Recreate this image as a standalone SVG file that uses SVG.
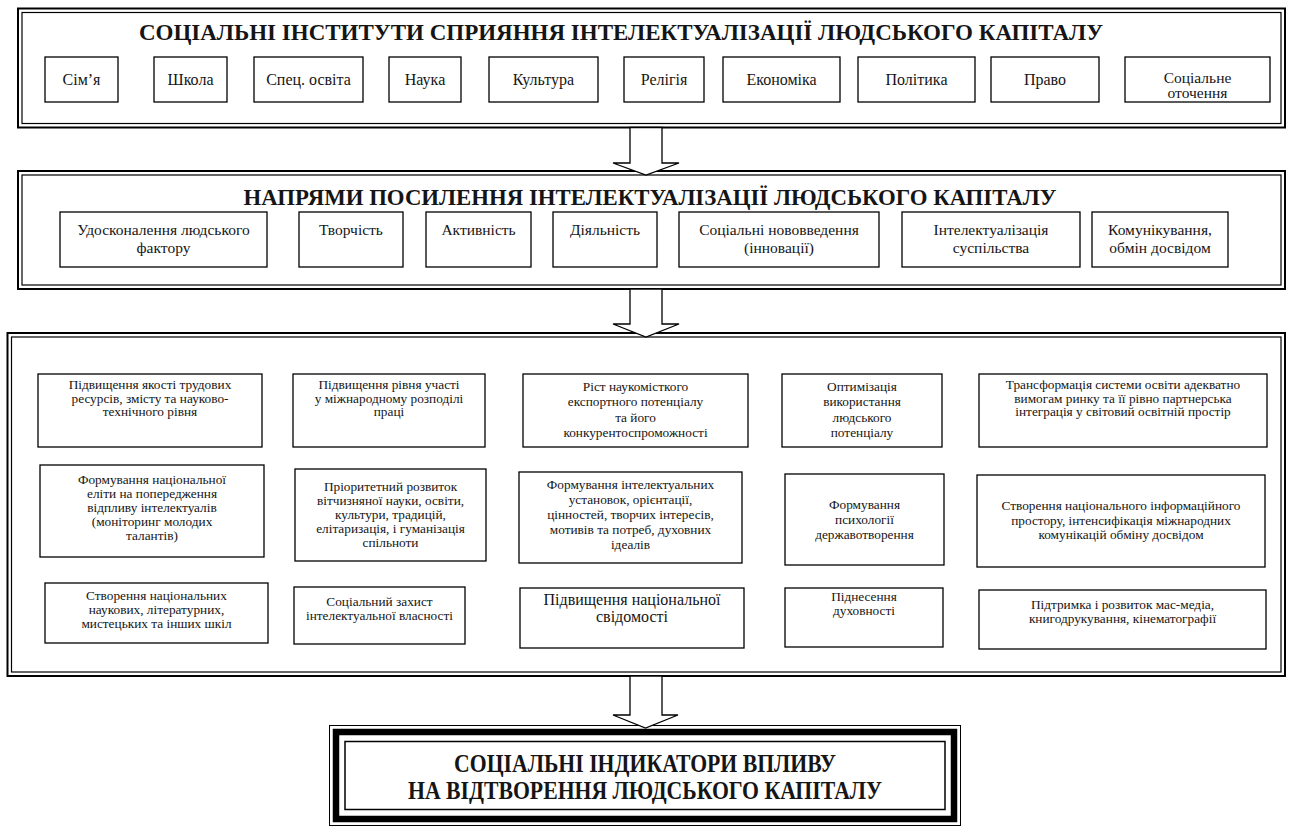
<svg xmlns="http://www.w3.org/2000/svg" width="1290" height="830" viewBox="0 0 1290 830" font-family="'Liberation Serif','Times New Roman','DejaVu Serif',serif">
<style>
.fo{fill:none;stroke:#000;stroke-width:2}
.fi{fill:none;stroke:#000;stroke-width:1.2}
.node rect{fill:#fff;stroke:#000;stroke-width:1.3}
.title{font-family:'Liberation Serif','Times New Roman','DejaVu Serif',serif;font-weight:700;font-size:23px;fill:#151515;text-anchor:middle}
.lbl{font-family:'Liberation Serif','Times New Roman','DejaVu Serif',serif;font-size:16px;fill:#151515;text-anchor:middle}
.l2{font-size:15.5px}
.l3{font-size:13.3px}
.big{font-size:16px}
.arrow{fill:#fff;stroke:#000;stroke-width:1.3;stroke-linejoin:miter}
</style>

<!-- Section 1 -->
<g id="sec1">
<rect class="fo" x="18" y="8.5" width="1267" height="119"/>
<rect class="fi" x="22" y="12.5" width="1259" height="111"/>
<text class="title" x="621" y="39.5">СОЦІАЛЬНІ ІНСТИТУТИ СПРИЯННЯ ІНТЕЛЕКТУАЛІЗАЦІЇ ЛЮДСЬКОГО КАПІТАЛУ</text>
</g>
<g id="n-simya" class="node"><rect x="45" y="57" width="73" height="45"/><text class="lbl" x="81.5" y="85">Сім’я</text></g>
<g id="n-shkola" class="node"><rect x="154" y="57" width="73" height="45"/><text class="lbl" x="190.5" y="85">Школа</text></g>
<g id="n-spec" class="node"><rect x="254" y="57" width="109" height="45"/><text class="lbl" x="308.5" y="85">Спец. освіта</text></g>
<g id="n-nauka" class="node"><rect x="389" y="57" width="72" height="45"/><text class="lbl" x="425" y="85">Наука</text></g>
<g id="n-kultura" class="node"><rect x="489" y="57" width="109" height="45"/><text class="lbl" x="543.5" y="85">Культура</text></g>
<g id="n-religiya" class="node"><rect x="624" y="57" width="80" height="45"/><text class="lbl" x="664" y="85">Релігія</text></g>
<g id="n-ekonomika" class="node"><rect x="723" y="57" width="117" height="45"/><text class="lbl" x="781.5" y="85">Економіка</text></g>
<g id="n-polityka" class="node"><rect x="858" y="57" width="117" height="45"/><text class="lbl" x="916.5" y="85">Політика</text></g>
<g id="n-pravo" class="node"><rect x="991" y="57" width="108" height="45"/><text class="lbl" x="1045" y="85">Право</text></g>
<g id="n-otochennya" class="node"><rect x="1125" y="57" width="145" height="45"/><text class="lbl l2"><tspan x="1197.5" y="83">Соціальне</tspan><tspan x="1197.5" y="98">оточення</tspan></text></g>

<!-- Section 2 -->
<g id="sec2">
<rect class="fo" x="18" y="171" width="1267" height="118"/>
<rect class="fi" x="22" y="175" width="1259" height="110"/>
<text class="title" style="font-size:22.8px" x="650" y="205">НАПРЯМИ ПОСИЛЕННЯ ІНТЕЛЕКТУАЛІЗАЦІЇ ЛЮДСЬКОГО КАПІТАЛУ</text>
</g>
<g id="n-udosk" class="node"><rect x="60" y="212" width="207" height="55"/><text class="lbl l2"><tspan x="163.5" y="235">Удосконалення людського</tspan><tspan x="163.5" y="253">фактору</tspan></text></g>
<g id="n-tvorch" class="node"><rect x="299" y="212" width="104" height="55"/><text class="lbl l2" x="351" y="235">Творчість</text></g>
<g id="n-aktyv" class="node"><rect x="426" y="212" width="105" height="55"/><text class="lbl l2" x="478.5" y="235">Активність</text></g>
<g id="n-diyal" class="node"><rect x="553" y="212" width="104" height="55"/><text class="lbl l2" x="605" y="235">Діяльність</text></g>
<g id="n-innov" class="node"><rect x="679" y="212" width="200" height="55"/><text class="lbl l2"><tspan x="779" y="235">Соціальні нововведення</tspan><tspan x="779" y="253">(інновації)</tspan></text></g>
<g id="n-intel" class="node"><rect x="902" y="212" width="178" height="55"/><text class="lbl l2"><tspan x="991" y="235">Інтелектуалізація</tspan><tspan x="991" y="253">суспільства</tspan></text></g>
<g id="n-komun" class="node"><rect x="1092" y="212" width="136" height="55"/><text class="lbl l2"><tspan x="1160" y="235">Комунікування,</tspan><tspan x="1160" y="253">обмін досвідом</tspan></text></g>

<!-- Section 3 -->
<g id="sec3">
<rect class="fo" x="7.5" y="333" width="1277.5" height="343"/>
<rect class="fi" x="11.5" y="337" width="1269.5" height="335"/>
</g>
<g id="n-a1" class="node"><rect x="38" y="374" width="224" height="73"/><text class="lbl l3"><tspan x="150" y="389">Підвищення якості трудових</tspan><tspan x="150" y="402.5">ресурсів, змісту та науково-</tspan><tspan x="150" y="416">технічного рівня</tspan></text></g>
<g id="n-b1" class="node"><rect x="293" y="374" width="192" height="73"/><text class="lbl l3"><tspan x="389" y="389">Підвищення рівня участі</tspan><tspan x="389" y="402.5">у міжнародному розподілі</tspan><tspan x="389" y="416">праці</tspan></text></g>
<g id="n-c1" class="node"><rect x="523" y="374" width="225" height="73"/><text class="lbl l3"><tspan x="635.5" y="390.5">Ріст наукомісткого</tspan><tspan x="635.5" y="406">експортного потенціалу</tspan><tspan x="635.5" y="421.5">та його</tspan><tspan x="635.5" y="437">конкурентоспроможності</tspan></text></g>
<g id="n-d1" class="node"><rect x="782" y="374" width="160" height="73"/><text class="lbl l3"><tspan x="862" y="390.5">Оптимізація</tspan><tspan x="862" y="406">використання</tspan><tspan x="862" y="421.5">людського</tspan><tspan x="862" y="437">потенціалу</tspan></text></g>
<g id="n-e1" class="node"><rect x="979" y="374" width="288" height="73"/><text class="lbl l3"><tspan x="1123" y="389">Трансформація системи освіти адекватно</tspan><tspan x="1123" y="402.5">вимогам ринку та її рівно партнерська</tspan><tspan x="1123" y="416">інтеграція у світовий освітній простір</tspan></text></g>

<g id="n-a2" class="node"><rect x="40" y="465" width="224" height="92"/><text class="lbl l3"><tspan x="152" y="484">Формування національної</tspan><tspan x="152" y="498">еліти на попередження</tspan><tspan x="152" y="512">відпливу інтелектуалів</tspan><tspan x="152" y="526">(моніторинг молодих</tspan><tspan x="152" y="540">талантів)</tspan></text></g>
<g id="n-b2" class="node"><rect x="295" y="469" width="191" height="92"/><text class="lbl l3"><tspan x="390.5" y="491">Пріоритетний розвиток</tspan><tspan x="390.5" y="505">вітчизняної науки, освіти,</tspan><tspan x="390.5" y="519">культури, традицій,</tspan><tspan x="390.5" y="533">елітаризація, і гуманізація</tspan><tspan x="390.5" y="547">спільноти</tspan></text></g>
<g id="n-c2" class="node"><rect x="519" y="472" width="223" height="91"/><text class="lbl l3"><tspan x="630.5" y="489">Формування інтелектуальних</tspan><tspan x="630.5" y="504">установок, орієнтації,</tspan><tspan x="630.5" y="519">цінностей, творчих інтересів,</tspan><tspan x="630.5" y="534">мотивів та потреб, духовних</tspan><tspan x="630.5" y="549">ідеалів</tspan></text></g>
<g id="n-d2" class="node"><rect x="785" y="474" width="159" height="91"/><text class="lbl l3"><tspan x="864.5" y="509">Формування</tspan><tspan x="864.5" y="524">психології</tspan><tspan x="864.5" y="539">державотворення</tspan></text></g>
<g id="n-e2" class="node"><rect x="977" y="475" width="288" height="92"/><text class="lbl l3"><tspan x="1121" y="510">Створення національного інформаційного</tspan><tspan x="1121" y="524.5">простору, інтенсифікація міжнародних</tspan><tspan x="1121" y="539">комунікацій обміну досвідом</tspan></text></g>

<g id="n-a3" class="node"><rect x="45" y="583" width="223" height="60"/><text class="lbl l3"><tspan x="156.5" y="600">Створення національних</tspan><tspan x="156.5" y="614">наукових, літературних,</tspan><tspan x="156.5" y="628">мистецьких та інших шкіл</tspan></text></g>
<g id="n-b3" class="node"><rect x="294" y="587" width="171" height="57"/><text class="lbl l3"><tspan x="379.5" y="606">Соціальний захист</tspan><tspan x="379.5" y="620">інтелектуальної власності</tspan></text></g>
<g id="n-c3" class="node"><rect x="520" y="588" width="224" height="60"/><text class="lbl big"><tspan x="632" y="605">Підвищення національної</tspan><tspan x="632" y="622">свідомості</tspan></text></g>
<g id="n-d3" class="node"><rect x="785" y="588" width="158" height="59"/><text class="lbl l3"><tspan x="864" y="601">Піднесення</tspan><tspan x="864" y="615">духовності</tspan></text></g>
<g id="n-e3" class="node"><rect x="979" y="590" width="287" height="59"/><text class="lbl l3"><tspan x="1122.5" y="609">Підтримка і розвиток мас-медіа,</tspan><tspan x="1122.5" y="623">книгодрукування, кінематографії</tspan></text></g>

<!-- Bottom result -->
<g id="n-result">
<rect x="329.5" y="725.5" width="631" height="100" fill="#fff" stroke="#000" stroke-width="1"/>
<rect x="336" y="732" width="618" height="87" fill="none" stroke="#000" stroke-width="6.5"/>
<rect x="345" y="741.5" width="600" height="68" fill="none" stroke="#000" stroke-width="1.5"/>
<text class="title" style="font-size:25px" transform="matrix(0.87 0 0 1 83.85 0)"><tspan x="645" y="772">СОЦІАЛЬНІ ІНДИКАТОРИ ВПЛИВУ</tspan><tspan x="645" y="799">НА ВІДТВОРЕННЯ ЛЮДСЬКОГО КАПІТАЛУ</tspan></text>
</g>

<!-- Connectors -->
<g id="connectors">
<polygon class="arrow" points="630,127.5 662,127.5 662,163 679,163 646,175 613,163 630,163"/>
<polygon class="arrow" points="630,289 662,289 662,324 679,324 646,337 613,324 630,324"/>
<polygon class="arrow" points="630,676 662,676 662,715 678,715 645.5,728 613,715 630,715"/>
</g>
</svg>
